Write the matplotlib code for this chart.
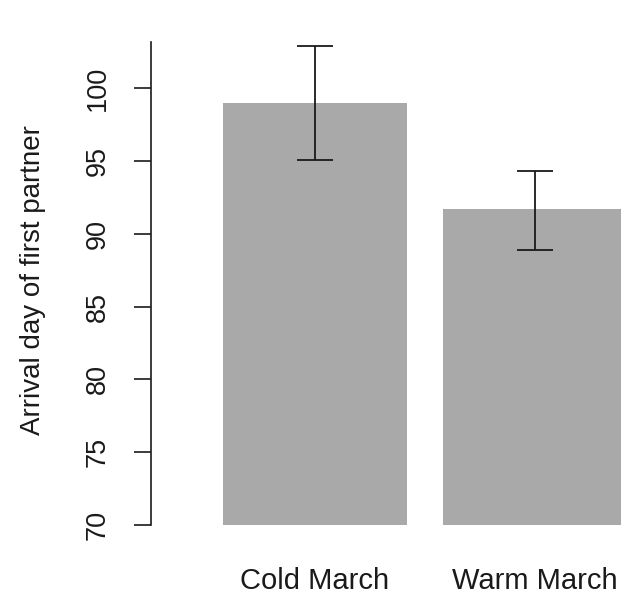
import matplotlib
matplotlib.use("Agg")
import matplotlib.pyplot as plt

categories = ["Cold March", "Warm March"]
means = [99.0, 91.7]
upper = [102.9, 94.3]
lower = [95.1, 88.9]
yticks = [70, 75, 80, 85, 90, 95, 100]

plt.rcParams['font.family'] = ['Liberation Sans', 'DejaVu Sans']

W, H = 621, 597
fig = plt.figure(figsize=(W / 100, H / 100), dpi=100)
left_px, right_px = 151, 621
top_px, bot_px = 15.5, 554.2
ax = fig.add_axes([left_px / W, 1 - bot_px / H, (right_px - left_px) / W, (bot_px - top_px) / H])

base = 70
xpos = [0.7, 1.9]
ax.bar(xpos, [m - base for m in means], width=1.0, bottom=base, color="#a9a9a9", edgecolor="none")
err_lo = [m - l for m, l in zip(means, lower)]
err_hi = [u - m for m, u in zip(means, upper)]
ax.errorbar(xpos, means, yerr=[err_lo, err_hi], fmt="none", ecolor="#1a1a1a",
            elinewidth=1.3, capsize=13.3, capthick=1.3)

ax.set_xlim(-0.195, 2.369)
ax.set_ylim(68, 105)

for s in ["top", "right", "bottom"]:
    ax.spines[s].set_visible(False)
ax.spines["left"].set_bounds(70, 103.2)
ax.spines["left"].set_linewidth(1.2)
ax.spines["left"].set_color("#1a1a1a")

ax.set_yticks(yticks)
ax.set_yticklabels([str(t) for t in yticks], rotation=90, va="center", fontsize=19.5, color="#1a1a1a")
ax.tick_params(axis="y", direction="out", length=12.2, width=1.2, color="#1a1a1a", pad=17)

ax.set_xticks(xpos)
ax.set_xticklabels(categories, fontsize=21, color="#1a1a1a")
ax.tick_params(axis="x", length=0, pad=9)

fig.text(33 / W, 1 - 280 / H, "Arrival day of first partner", rotation=90,
         ha="center", va="center", fontsize=20, color="#1a1a1a")

fig.savefig("out.png", dpi=100)
